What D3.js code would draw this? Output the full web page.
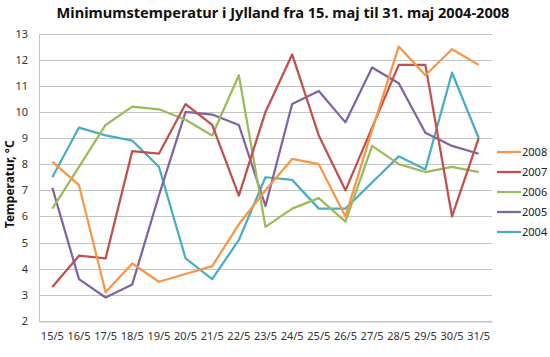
<!DOCTYPE html>
<html>
<head>
<meta charset="utf-8">
<script src="https://cdn.jsdelivr.net/npm/d3@7"></script>
<style>
  html, body { margin: 0; padding: 0; background: #fff; }
  svg { display: block; }
  text { font-family: "Noto Sans", "Open Sans", sans-serif; }
</style>
</head>
<body>
<svg id="chart" width="550" height="357"></svg>
<script>
const categories = ["15/5","16/5","17/5","18/5","19/5","20/5","21/5","22/5","23/5","24/5","25/5","26/5","27/5","28/5","29/5","30/5","31/5"];
const seriesNames = ["2008","2007","2006","2005","2004"];
const values2008 = [8.1, 7.2, 3.1, 4.2, 3.5, 3.8, 4.1, 5.7, 7.0, 8.2, 8.0, 6.0, 9.3, 12.5, 11.4, 12.4, 11.8];
const values2007 = [3.3, 4.5, 4.4, 8.5, 8.4, 10.3, 9.5, 6.8, 10.0, 12.2, 9.1, 7.0, 9.4, 11.8, 11.8, 6.0, 9.0];
const values2006 = [6.3, 7.9, 9.5, 10.2, 10.1, 9.7, 9.1, 11.4, 5.6, 6.3, 6.7, 5.8, 8.7, 8.0, 7.7, 7.9, 7.7];
const values2005 = [7.1, 3.6, 2.9, 3.4, 6.8, 10.0, 9.9, 9.5, 6.4, 10.3, 10.8, 9.6, 11.7, 11.1, 9.2, 8.7, 8.4];
const values2004 = [7.5, 9.4, 9.1, 8.9, 7.9, 4.4, 3.6, 5.1, 7.5, 7.4, 6.3, 6.3, 7.3, 8.3, 7.8, 11.5, 9.0];
const colors = ["#F79646", "#C0504D", "#9BBB59", "#8064A2", "#4BACC6"];
const yTicks = [2,3,4,5,6,7,8,9,10,11,12,13];
const title = "Minimumstemperatur i Jylland fra 15. maj til 31. maj 2004-2008";
const yTitle = "Temperatur, °C";

(function () {
const allValues = [values2008, values2007, values2006, values2005, values2004];
const series = seriesNames.map((n, i) => ({ name: n, values: allValues[i], color: colors[i] }));

const svg = d3.select("#chart");
const mLeft = 39, mRight = 492, mTop = 33.5, mBottom = 321;

const x = d3.scaleBand().domain(categories).range([mLeft, mRight]);
const y = d3.scaleLinear().domain([2, 13]).range([mBottom, mTop]);

// gridlines
svg.append("g").selectAll("line").data(yTicks).join("line")
  .attr("x1", mLeft).attr("x2", mRight)
  .attr("y1", d => Math.round(y(d)) + 0.5).attr("y2", d => Math.round(y(d)) + 0.5)
  .attr("stroke", "#c4c4c4").attr("stroke-width", 1);

// axes
const yAxis = svg.append("g").attr("transform", `translate(${mLeft},0)`)
  .call(d3.axisLeft(y).tickValues(yTicks).tickSize(0).tickPadding(11));
yAxis.select(".domain").attr("stroke", "#c4c4c4");
yAxis.selectAll("text").attr("font-size", 11).attr("fill", "#333")
  .attr("font-family", "'Noto Sans', sans-serif");

const xAxis = svg.append("g").attr("transform", `translate(0,${Math.round(mBottom) + 0.5})`)
  .call(d3.axisBottom(x).tickSize(0).tickPadding(11));
xAxis.select(".domain").attr("stroke", "#c4c4c4");
xAxis.selectAll("text").attr("font-size", 11).attr("fill", "#333")
  .attr("font-family", "'Noto Sans', sans-serif");

// lines
const line = d3.line()
  .x((d, i) => x(categories[i]) + x.bandwidth() / 2)
  .y(d => y(d));

svg.append("g").selectAll("path").data(series.slice().reverse()).join("path")
  .attr("d", d => line(d.values))
  .attr("fill", "none")
  .attr("stroke", d => d.color)
  .attr("stroke-width", 2.25)
  .attr("stroke-linejoin", "round");

// title
svg.append("text").attr("x", 283).attr("y", 18)
  .attr("text-anchor", "middle").attr("font-size", 14.6).attr("font-weight", "bold")
  .attr("fill", "#111").text(title);

// y title
svg.append("text")
  .attr("transform", `translate(14,${(mTop + mBottom) / 2 + 7}) rotate(-90)`)
  .attr("text-anchor", "middle").attr("font-size", 12).attr("font-weight", "bold")
  .attr("fill", "#111").text(yTitle);

// legend
const lg = svg.append("g").selectAll("g").data(series).join("g")
  .attr("transform", (d, i) => `translate(497,${152 + i * 20})`);
lg.append("line").attr("x1", 0).attr("x2", 24).attr("y1", 0).attr("y2", 0)
  .attr("stroke", d => d.color).attr("stroke-width", 2.25);
lg.append("text").attr("x", 25).attr("y", 4).attr("font-size", 11).attr("fill", "#222")
  .text(d => d.name);
})();
</script>
</body>
</html>
